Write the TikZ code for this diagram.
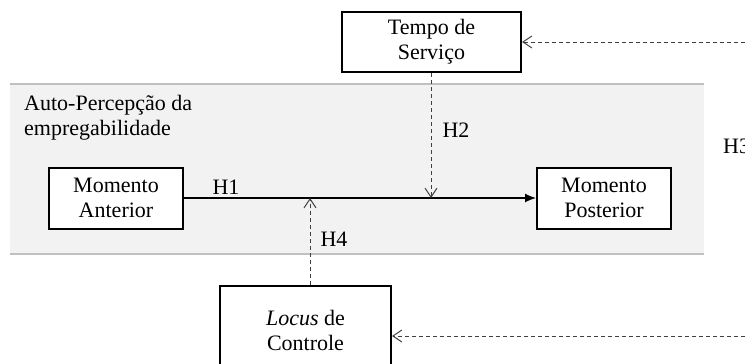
\documentclass[tikz,border=0pt]{standalone}
\usepackage{fontspec}
\setmainfont{Liberation Serif}
\usetikzlibrary{arrows.meta}
\definecolor{panel}{HTML}{F2F2F2}
\definecolor{panelline}{HTML}{C0C0C0}
\definecolor{dashcol}{HTML}{404040}
\tikzset{
  every node/.style={font=\fontsize{22}{25}\selectfont},
  varbox/.style={draw=black, line width=2pt, fill=white, align=center, inner sep=0pt},
  modline/.style={dashcol, line width=1pt, dash pattern=on 4pt off 3pt, -{Straight Barb[length=9pt,width=12pt,line width=1pt]}},
  mainline/.style={black, line width=1.2pt, -{Latex[length=11pt,width=9pt]}},
  hlabel/.style={inner sep=0pt}
}
\begin{document}
\begin{tikzpicture}[x=1pt,y=1pt]
\useasboundingbox (0,0) rectangle (745,-364);
\clip (0,0) rectangle (745,-364);
% panel
\fill[panel] (10,-84) rectangle (704,-254);
\draw[panelline, line width=1.2pt] (10,-84) -- (704,-84);
\draw[panelline, line width=1.2pt] (10,-254) -- (704,-254);
\node[anchor=north west, align=left, inner sep=0pt] (paneltitle) at (24,-95) {Auto-Percepção da\\empregabilidade};
% boxes
\node[varbox, minimum width=179pt, minimum height=60pt] (tempo) at (431.5,-42) {Tempo de\\Serviço};
\node[varbox, minimum width=134pt, minimum height=61pt] (ant) at (116,-198) {Momento\\Anterior};
\node[varbox, minimum width=134pt, minimum height=61pt] (post) at (604,-198) {Momento\\Posterior};
\node[varbox, minimum width=171pt, minimum height=88pt] (locus) at (305.5,-330) {\textit{Locus} de\\Controle};
% free ends
\coordinate (r1) at (745,-42);
\coordinate (r2) at (745,-336);
\coordinate (m2) at (431,-198);
\coordinate (m4) at (310,-198);
% connectors
\draw[mainline] (ant.east) -- (post.west);
\draw[modline] (tempo.south -| m2) -- (m2);
\draw[modline] (locus.north -| m4) -- (m4);
\draw[modline] (r1) -- (tempo.east);
\draw[modline] (r2) -- (r2 -| locus.east);
% labels
\node[hlabel] (h1) at (226,-187) {H1};
\node[hlabel] (h2) at (456,-130) {H2};
\node[hlabel, anchor=west] (h3) at (723,-146) {H3};
\node[hlabel] (h4) at (334,-239) {H4};
\end{tikzpicture}
\end{document}
